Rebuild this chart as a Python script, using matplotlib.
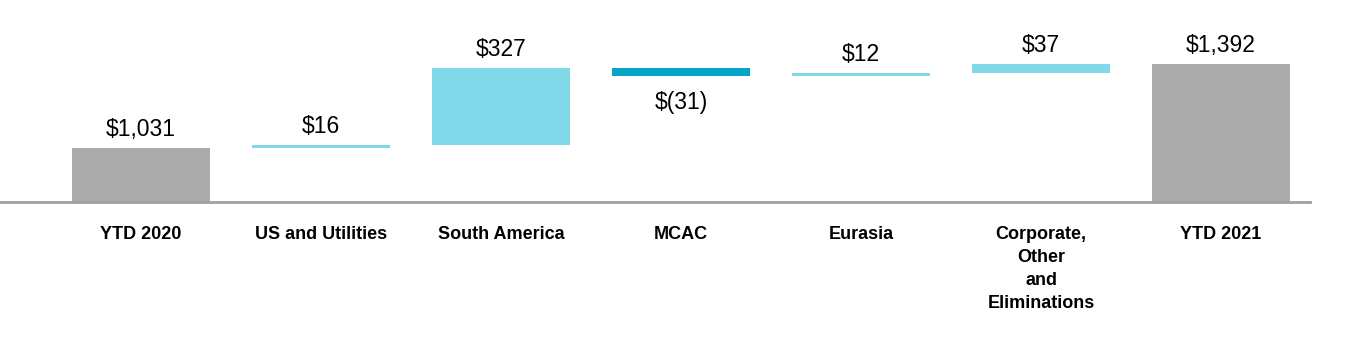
import matplotlib
matplotlib.use("Agg")
import matplotlib.pyplot as plt
import numpy as np

plt.rcParams["font.family"] = ["Liberation Sans", "DejaVu Sans"]

# Waterfall: YTD 2020 -> YTD 2021 by segment ($M)
categories = ["YTD 2020", "US and Utilities", "South America", "MCAC",
              "Eurasia", "Corporate,\nOther\nand\nEliminations", "YTD 2021"]
start_total = 1031
changes = [16, 327, -31, 12, 37]
end_total = 1392
labels = ["$1,031", "$16", "$327", "$(31)", "$12", "$37", "$1,392"]

GREY = "#ababab"
UP = "#80d9e8"
DOWN = "#07a6c8"

# bar heights and bottoms
cum = start_total + np.concatenate([[0], np.cumsum(changes)])
heights = [start_total] + changes + [end_total]
bottoms = [0] + list(cum[:-1]) + [0]
colors = [GREY] + [UP if c > 0 else DOWN for c in changes] + [GREY]

fig = plt.figure(figsize=(13.6, 3.5), dpi=100)
ax = fig.add_axes([0, 148 / 350, 1310 / 1360, 202 / 350])

x = np.arange(len(categories))
ax.bar(x, heights, bottom=bottoms, width=0.767, color=colors, linewidth=0)

for xi, h, b, lab in zip(x, heights, bottoms, labels):
    if h >= 0:
        ax.annotate(lab, (xi, b + h), xytext=(0, 5), textcoords="offset points",
                    ha="center", va="bottom", fontsize=16.5)
    else:
        ax.annotate(lab, (xi, b + h), xytext=(0, -11), textcoords="offset points",
                    ha="center", va="top", fontsize=16.5)

ax.set_ylim(800, 1668)
ax.set_xlim(-0.783, 6.494)
ax.set_yticks([])
ax.set_xticks(x)
ax.set_xticklabels(categories, fontsize=13, fontweight="bold", linespacing=1.48,
                   va="top", ha="center")
ax.tick_params(axis="x", length=0, pad=17)
for side in ["top", "right", "left"]:
    ax.spines[side].set_visible(False)
ax.spines["bottom"].set_color("#a0a0a0")
ax.spines["bottom"].set_linewidth(2)

fig.savefig("out.png", dpi=100)
